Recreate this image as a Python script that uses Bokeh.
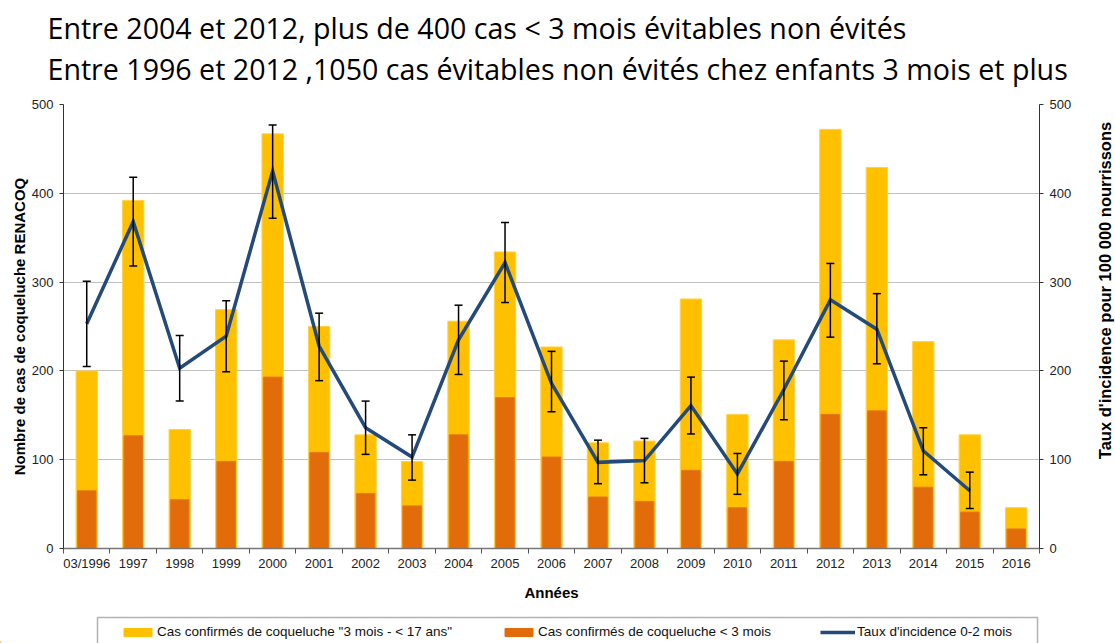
import math
from bokeh.plotting import figure
from bokeh.layouts import column, row
from bokeh.models import (Range1d, LinearAxis, FixedTicker, Whisker, TeeHead, ColumnDataSource,
                          Legend, LegendItem, Label, BoxAnnotation)
from bokeh.embed import file_html
from bokeh.resources import INLINE

years = ["03/1996", "1997", "1998", "1999", "2000", "2001", "2002", "2003", "2004", "2005",
         "2006", "2007", "2008", "2009", "2010", "2011", "2012", "2013", "2014", "2015", "2016"]
cas_moins_3mois = [65, 127, 55, 98, 193, 108, 62, 48, 128, 170, 103, 58, 53, 88, 46, 98, 151, 155, 69, 41, 22]
cas_3mois_17ans = [135, 265, 79, 171, 274, 142, 66, 50, 128, 164, 124, 61, 68, 193, 105, 137, 321, 274, 164, 87, 24]
taux = [253, 368, 203, 239, 425, 228, 136, 103, 235, 322, 186, 97, 99, 161, 84, 179, 280, 247, 110, 65]
taux_bas = [205, 318, 166, 199, 372, 189, 106, 77, 196, 277, 154, 73, 74, 129, 61, 145, 238, 208, 83, 45]
taux_haut = [301, 418, 240, 279, 477, 265, 166, 128, 274, 367, 222, 122, 124, 193, 107, 211, 321, 287, 136, 86]

title1 = "Entre 2004 et 2012, plus de 400 cas  < 3 mois  évitables non évités"
title2 = "Entre 1996 et 2012 ,1050  cas évitables non évités chez enfants 3 mois et plus"
left_title = "Nombre de cas de coqueluche RENACOQ"
right_title = "Taux d'incidence pour 100 000 nourrissons"
x_title = "Années"
legend_labels = ['Cas confirmés de coqueluche "3 mois - < 17 ans"',
                 "Cas confirmés de coqueluche < 3 mois",
                 "Taux d'incidence 0-2 mois"]

xs = list(range(len(years)))
totals = [a + b for a, b in zip(cas_moins_3mois, cas_3mois_17ans)]
bars = ColumnDataSource(dict(x=xs, under=cas_moins_3mois, total=totals))
rates = ColumnDataSource(dict(x=xs[:len(taux)], taux=taux, lo=taux_bas, hi=taux_haut))

YELLOW = "#FFC000"
ORANGE = "#E36C0A"
BLUE = "#234A7A"
FONT = "Liberation Sans"
W = 1115
RW = 35   # width of the strip holding the right-hand axis title
TH = 97   # title strip height
MH = 513  # main chart height
LH = 33   # legend strip height


def no_align(fig):
    try:
        fig.frame_align = False
    except Exception:
        pass


def strip(width, height, xr=(0, 1), yr=(0, 1)):
    f = figure(width=width, height=height, output_backend="svg", toolbar_location=None,
               x_axis_type=None, y_axis_type=None, x_range=Range1d(*xr), y_range=Range1d(*yr),
               min_border=0, min_border_left=0, min_border_right=0, min_border_top=0,
               min_border_bottom=0)
    f.outline_line_color = None
    f.grid.visible = False
    no_align(f)
    return f


# ---------- title strip ----------
pt = strip(W, TH)
for txt, yy in [(title1, 70), (title2, 29)]:
    pt.add_layout(Label(x=47, y=yy, x_units="screen", y_units="screen", text=txt,
                        text_font="Open Sans", text_font_size="28.6px", text_color="black",
                        text_baseline="alphabetic", text_align="left"))

# ---------- main chart ----------
p = figure(width=W - RW, height=MH, output_backend="svg", toolbar_location=None,
           x_range=Range1d(-0.5, len(years) - 0.5), y_range=Range1d(0, 500),
           min_border_left=63, min_border_right=W - RW - 1039, min_border_top=7,
           min_border_bottom=62)
no_align(p)
p.extra_y_ranges = {"rate": Range1d(0, 500)}
p.outline_line_color = None


def style_y(a):
    a.ticker = FixedTicker(ticks=[0, 100, 200, 300, 400, 500])
    a.axis_line_color = "#333333"
    a.major_tick_line_color = "#333333"
    a.major_tick_in = 0
    a.major_tick_out = 4
    a.minor_tick_line_color = None
    a.major_label_text_font = FONT
    a.major_label_text_font_size = "13px"
    a.major_label_text_color = "#222222"
    a.major_label_standoff = 6
    a.axis_label_text_font = FONT
    a.axis_label_text_font_style = "bold"
    a.axis_label_text_font_size = "15px"
    a.axis_label_text_color = "black"


ax = p.yaxis[0]
style_y(ax)
ax.axis_label = left_title
ax.axis_label_standoff = 1

rax = LinearAxis(y_range_name="rate")
style_y(rax)
p.add_layout(rax, "right")

bx = p.xaxis[0]
bx.ticker = FixedTicker(ticks=xs, minor_ticks=[i - 0.5 for i in range(len(years) + 1)])
bx.major_label_overrides = {i: y for i, y in zip(xs, years)}
bx.axis_line_color = "#777777"
bx.axis_line_width = 1.5
bx.major_tick_line_color = None
bx.minor_tick_line_color = "#555555"
bx.minor_tick_in = 0
bx.minor_tick_out = 5
bx.major_label_text_font = FONT
bx.major_label_text_font_size = "13px"
bx.major_label_text_color = "#222222"
bx.major_label_standoff = 1
bx.axis_label = x_title
bx.axis_label_text_font = FONT
bx.axis_label_text_font_style = "bold"
bx.axis_label_text_font_size = "15px"
bx.axis_label_text_color = "black"
bx.axis_label_standoff = 10

p.xgrid.visible = False
p.ygrid.grid_line_color = "#808080"
p.ygrid.grid_line_dash = "1 1"
p.ygrid.grid_line_width = 1

p.vbar(x="x", top="total", bottom=0, width=0.46, source=bars,
       fill_color=YELLOW, line_color="#FFD24D", line_width=1)
p.vbar(x="x", top="under", bottom=0, width=0.40, source=bars,
       fill_color=ORANGE, line_color="#E8781E", line_width=1)
p.line(x="x", y="taux", source=rates, y_range_name="rate",
       line_color=BLUE, line_width=3.5, line_join="miter")
w = Whisker(base="x", upper="hi", lower="lo", source=rates, y_range_name="rate",
            line_color="black", line_width=1.5, level="annotation",
            upper_head=TeeHead(size=8, line_color="black", line_width=1.5),
            lower_head=TeeHead(size=8, line_color="black", line_width=1.5))
p.add_layout(w)

# ---------- right axis title strip ----------
pr = strip(RW, MH)
pr.add_layout(Label(x=24, y=320, x_units="screen", y_units="screen", text=right_title,
                    angle=math.pi / 2, text_font=FONT, text_font_style="bold",
                    text_font_size="16.5px", text_color="black",
                    text_align="center", text_baseline="middle"))

# ---------- legend strip ----------
pl = strip(W, LH, xr=(0, W), yr=(0, LH))
g1 = pl.vbar(x=[-100], top=[1], width=1, fill_color=YELLOW, line_color=YELLOW)
g2 = pl.vbar(x=[-100], top=[1], width=1, fill_color=ORANGE, line_color=ORANGE)
g3 = pl.line(x=[-100, -90], y=[1, 1], line_color=BLUE, line_width=3.5)
pl.add_layout(BoxAnnotation(left=97, right=1037, top=26, bottom=-10, fill_alpha=0,
                            line_color="black", line_width=1.5))
legend = Legend(items=[LegendItem(label=legend_labels[0], renderers=[g1]),
                       LegendItem(label=legend_labels[1], renderers=[g2]),
                       LegendItem(label=legend_labels[2], renderers=[g3])],
                orientation="horizontal", location=(114, -2), padding=6, spacing=49,
                glyph_width=35, glyph_height=10, label_standoff=2, label_height=12,
                label_text_font=FONT, label_text_font_size="13.5px", label_text_color="#111111",
                border_line_alpha=0, background_fill_alpha=0, margin=0)
pl.add_layout(legend)

open("out.html", "w").write(file_html(column(pt, row(p, pr), pl), INLINE))
